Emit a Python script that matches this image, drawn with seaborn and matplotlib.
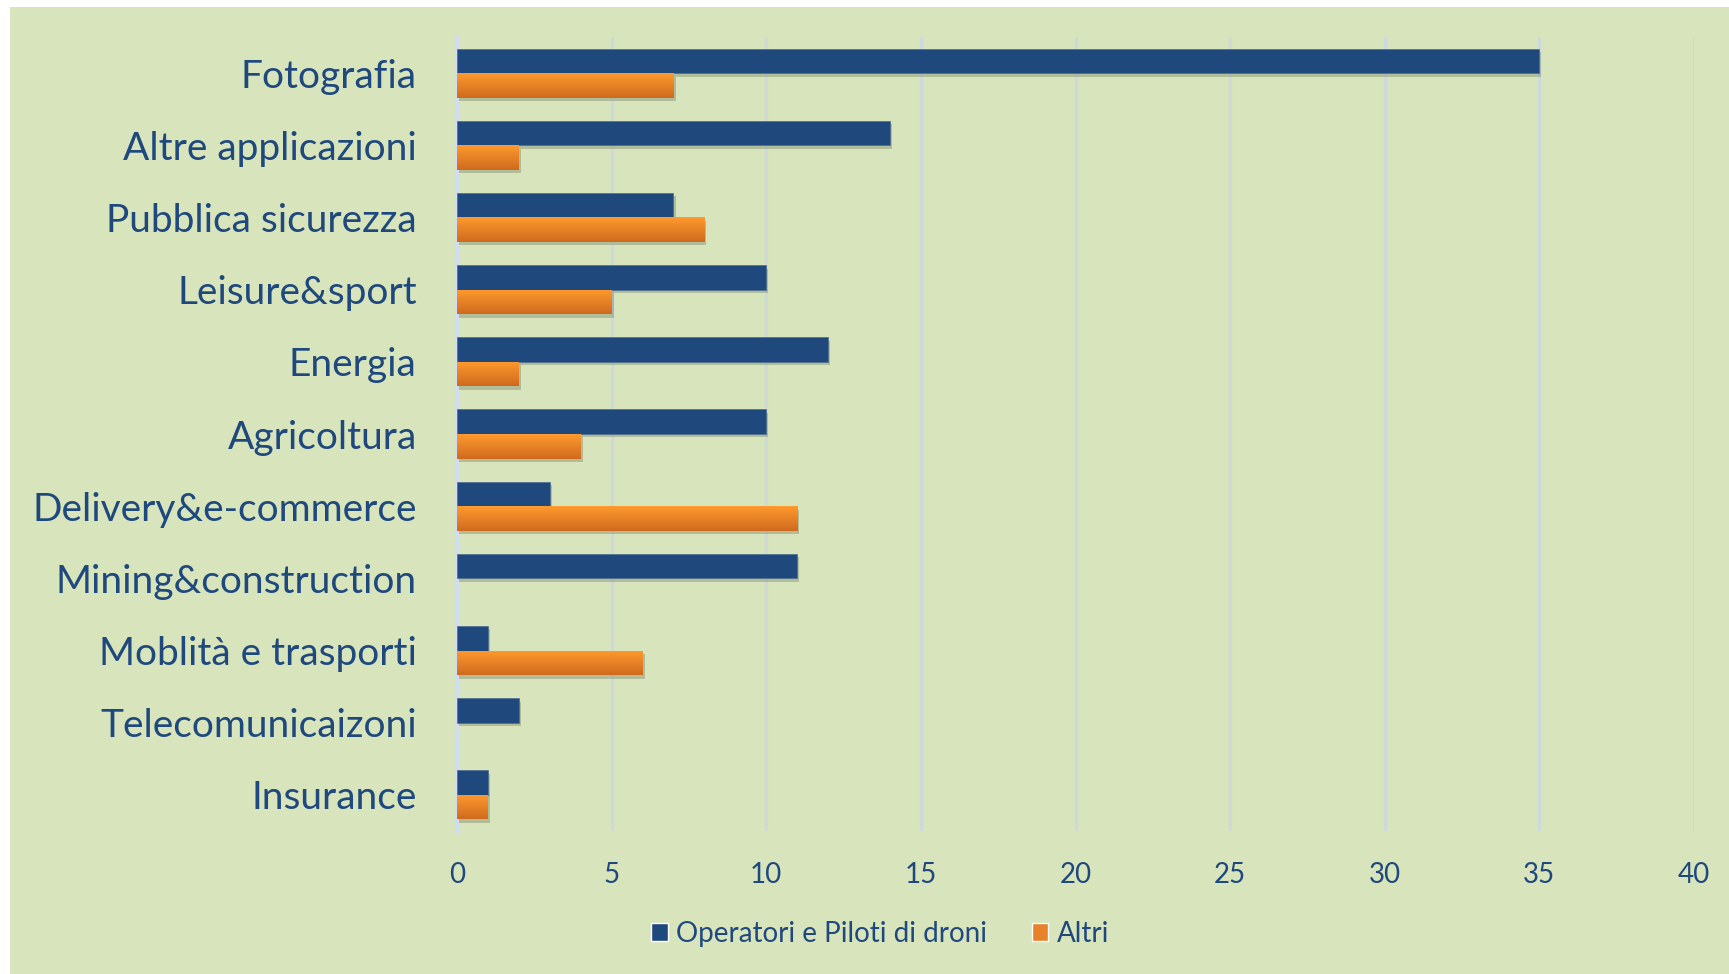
import numpy as np
import pandas as pd
import seaborn as sns
from matplotlib import pyplot as plt
from matplotlib import patheffects as pe
from matplotlib.colors import LinearSegmentedColormap
from matplotlib.patches import Rectangle, Patch

categories = [
    "Fotografia",
    "Altre applicazioni",
    "Pubblica sicurezza",
    "Leisure&sport",
    "Energia",
    "Agricoltura",
    "Delivery&e-commerce",
    "Mining&construction",
    "Moblità e trasporti",
    "Telecomunicaizoni",
    "Insurance",
]
operatori = [35, 14, 7, 10, 12, 10, 3, 11, 1, 2, 1]
altri = [7, 2, 8, 5, 2, 4, 11, 0, 6, 0, 1]
series = ["Operatori e Piloti di droni", "Altri"]
x_ticks = [0, 5, 10, 15, 20, 25, 30, 35, 40]

BG = "#D8E4BC"
BLUE = "#1F497D"
ORANGE_TOP = "#FF9A2E"
ORANGE_BOT = "#CF6A1E"
TEXT = "#1F497D"
GRID = "#CCDAE0"

df = pd.DataFrame({
    "categoria": categories * 2,
    "valore": operatori + altri,
    "serie": [series[0]] * len(categories) + [series[1]] * len(categories),
})

sns.set_style("white")
plt.rcParams["font.family"] = ["Lato", "DejaVu Sans"]

fig = plt.figure(figsize=(17.29, 9.74), dpi=100, facecolor="white")
fig.patches.append(Rectangle((10 / 1729, 0), 1, 1 - 7 / 974, transform=fig.transFigure,
                             facecolor=BG, edgecolor="none", zorder=-10))
ax = fig.add_axes([457 / 1729, 1 - 831 / 974, (1694 - 457) / 1729, (831 - 37) / 974])
ax.set_facecolor(BG)

sns.barplot(
    data=df, x="valore", y="categoria", hue="serie", orient="h",
    palette=[BLUE, ORANGE_TOP], width=0.68, ax=ax, legend=False,
    saturation=1, zorder=3,
)

shadow_fx = pe.SimplePatchShadow(offset=(1.5, -2.5), shadow_rgbFace="#404830", alpha=0.25)

# blue bars: flat with soft shadow
for bar in ax.containers[0]:
    bar.set_edgecolor("#4A6C90")
    bar.set_linewidth(0.5)
    bar.set_path_effects([shadow_fx, pe.Normal()])

# orange bars: vertical gradient
grad = np.linspace(0, 1, 64).reshape(-1, 1)
cmap = LinearSegmentedColormap.from_list("og", [ORANGE_TOP, ORANGE_BOT])
for bar in ax.containers[1]:
    if bar.get_width() <= 0:
        bar.set_visible(False)
        continue
    bar.set_facecolor("none")
    bar.set_edgecolor("none")
    x0, y0 = bar.get_x(), bar.get_y()
    w, h = bar.get_width(), bar.get_height()
    sh = Rectangle((x0, y0), w, h, facecolor=ORANGE_BOT, edgecolor="none", zorder=2.9)
    ax.add_patch(sh)
    sh.set_path_effects([shadow_fx, pe.Normal()])
    im = ax.imshow(grad, cmap=cmap, aspect="auto", extent=(x0, x0 + w, y0 + h, y0),
                   zorder=3, interpolation="bicubic")
    im.set_clip_path(bar)

ax.set_xlim(0, 40)
ax.set_ylim(len(categories) - 0.5, -0.5)
ax.set_xticks(x_ticks)
ax.set_xlabel("")
ax.set_ylabel("")
ax.grid(axis="x", color=GRID, linewidth=2.2, zorder=0)
ax.set_axisbelow(True)
for s in ["top", "right", "bottom"]:
    ax.spines[s].set_visible(False)
ax.spines["left"].set_color("#D0DDF0")
ax.spines["left"].set_linewidth(3)
ax.tick_params(axis="y", labelsize=28, labelcolor=TEXT, length=0, pad=29)
ax.tick_params(axis="x", labelsize=20, labelcolor=TEXT, length=0, pad=22)

handles = [Patch(facecolor=BLUE), Patch(facecolor="#E8822A")]
fig.legend(handles, series, loc="center", bbox_to_anchor=(0.509, 1 - 934 / 974),
           ncol=2, frameon=False, fontsize=20, labelcolor=TEXT,
           handlelength=0.6, handleheight=0.6, handletextpad=0.3, columnspacing=1.6)

fig.savefig("out.png", dpi=100, facecolor="white")
plt.close(fig)
